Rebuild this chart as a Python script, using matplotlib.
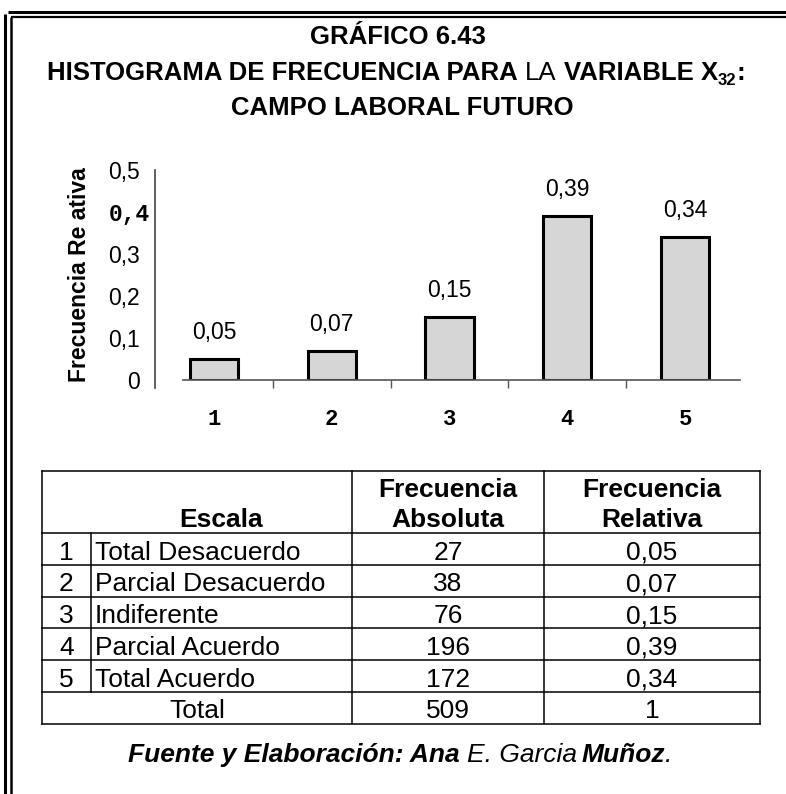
import matplotlib.pyplot as plt
from matplotlib.transforms import offset_copy

plt.rcParams['font.family'] = ['Liberation Sans', 'DejaVu Sans']

# datos de la variable X32
categorias = [1, 2, 3, 4, 5]
escalas = ['Total Desacuerdo', 'Parcial Desacuerdo', 'Indiferente',
           'Parcial Acuerdo', 'Total Acuerdo']
frec_abs = [27, 38, 76, 196, 172]
frec_rel = [0.05, 0.07, 0.15, 0.39, 0.34]
total_abs = 509
total_rel = 1
y_ticks = [0, 0.1, 0.2, 0.3, 0.4, 0.5]


def coma(v):
    return '{:.2f}'.format(v).replace('.', ',')


y_labels = ['0' if t == 0 else '{:.1f}'.format(t).replace('.', ',') for t in y_ticks]

fig = plt.figure(figsize=(7.86, 7.94), dpi=100)

# capa de fondo en pixeles para marco, titulo, tabla y fuente
bg = fig.add_axes([0, 0, 1, 1])
bg.set_xlim(0, 786)
bg.set_ylim(794, 0)
bg.axis('off')

# marco doble (arriba e izquierda)
bg.plot([8, 786], [11.5, 11.5], color='black', lw=2.2, solid_capstyle='butt')
bg.plot([11, 786], [16.5, 16.5], color='black', lw=1.6, solid_capstyle='butt')
bg.plot([4.5, 4.5], [14, 794], color='black', lw=2.2, solid_capstyle='butt')
bg.plot([10.5, 10.5], [17, 794], color='black', lw=1.8, solid_capstyle='butt')

renderer = fig.canvas.get_renderer()


def texto_por_partes(y, partes, xc=400):
    # partes: (texto, props, espacio_antes_px, desplazamiento_y_px)
    objs = []
    for s, kw, gap, dy in partes:
        t = bg.text(0, y + dy, s, ha='left', va='baseline', **kw)
        objs.append((t, gap))
    anchos = [t.get_window_extent(renderer).width for t, _ in objs]
    total = sum(anchos) + sum(g for _, g in objs)
    x = xc - total / 2
    for (t, gap), w in zip(objs, anchos):
        x += gap
        t.set_x(x)
        x += w


tb = dict(fontsize=18.5, fontweight='bold')
tr = dict(fontsize=18.5, fontweight='normal')
texto_por_partes(44, [('GRÁFICO 6.43', tb, 0, 0)], xc=398)
texto_por_partes(80, [('HISTOGRAMA DE FRECUENCIA PARA', tb, 0, 0),
                      ('LA', tr, 7, 0),
                      ('VARIABLE X', tb, 7, 0),
                      ('32', dict(fontsize=12, fontweight='bold'), 0, 5),
                      (':', tb, 0, 0)], xc=396)
texto_por_partes(115, [('CAMPO LABORAL FUTURO', tb, 0, 0)], xc=402)

# histograma
ax = fig.add_axes([155 / 786, 1 - 380 / 794, 589 / 786, 210 / 794])
ax.patch.set_visible(False)
ax.bar(categorias, frec_rel, width=0.41, color='#d6d6d6',
       edgecolor='black', linewidth=2.2)
ax.set_xlim(0.5, 5.5)
ax.set_ylim(0, 0.5)

for c, v in zip(categorias, frec_rel):
    ax.annotate(coma(v), (c, v), xytext=(0, 19), textcoords='offset points',
                ha='center', va='center', fontsize=16.5)

for s in ['top', 'right']:
    ax.spines[s].set_visible(False)
ax.spines['left'].set_color('#444444')
ax.spines['left'].set_linewidth(1.2)
ax.spines['left'].set_bounds(-0.02, 0.5)
ax.spines['bottom'].set_color('#555555')
ax.spines['bottom'].set_linewidth(1.2)
ax.spines['bottom'].set_bounds(0.74, 5.47)

ax.set_yticks(y_ticks, y_labels, fontsize=16.5)
ax.tick_params(axis='y', length=0, pad=11)
ax.set_xticks(categorias, [str(c) for c in categorias],
              fontfamily='Liberation Mono', fontweight='bold', fontsize=16)
ax.tick_params(axis='x', which='major', length=0, pad=21)
ax.set_xticks([1.5, 2.5, 3.5, 4.5], minor=True)
ax.tick_params(axis='x', which='minor', length=6, width=1, color='#555555',
               direction='out')

# la etiqueta 0,4 sale en otra tipografia
lab = ax.get_yticklabels()[4]
lab.set_fontfamily('Liberation Mono')
lab.set_fontweight('bold')
lab.set_transform(offset_copy(lab.get_transform(), fig=fig, x=10, units='dots'))

ax.set_ylabel('Frecuencia Re ativa', fontsize=16.5, fontweight='bold')
ax.yaxis.set_label_coords((80 - 155) / 589, 0.5)
ax.yaxis.label.set_va('center')

# tabla de frecuencias
x_izq, x_num, x_abs, x_rel, x_der = 42, 91, 352, 544, 760
y_top, y_head = 471, 533
alto = 31.8
filas_y = [y_head + i * alto for i in range(len(escalas) + 1)]
y_bot = filas_y[-1] + alto
lw_t = 1.1

bg.plot([x_izq, x_der], [y_top, y_top], color='black', lw=lw_t)
for yy in filas_y + [y_bot]:
    bg.plot([x_izq, x_der], [yy, yy], color='black', lw=lw_t)
for xx in [x_izq, x_abs, x_rel, x_der]:
    bg.plot([xx, xx], [y_top, y_bot], color='black', lw=lw_t)
bg.plot([x_num, x_num], [filas_y[0], filas_y[-1]], color='black', lw=lw_t)

fh = dict(fontsize=19, fontweight='bold', ha='center', va='baseline')
bg.text((x_num + x_abs) / 2, 527, 'Escala', **fh)
bg.text((x_abs + x_rel) / 2, 497, 'Frecuencia', **fh)
bg.text((x_abs + x_rel) / 2, 527, 'Absoluta', **fh)
bg.text((x_rel + x_der) / 2, 497, 'Frecuencia', **fh)
bg.text((x_rel + x_der) / 2, 527, 'Relativa', **fh)

fc = dict(fontsize=19, va='baseline')
for i, (c, e, a, r) in enumerate(zip(categorias, escalas, frec_abs, frec_rel)):
    yb = filas_y[i] + 26.5
    bg.text((x_izq + x_num) / 2, yb, str(c), ha='center', **fc)
    bg.text(x_num + 4, yb, e, ha='left', **fc)
    bg.text((x_abs + x_rel) / 2, yb, str(a), ha='center', **fc)
    bg.text((x_rel + x_der) / 2, yb, coma(r), ha='center', **fc)
yb = filas_y[-1] + 26
bg.text((x_izq + x_abs) / 2, yb, 'Total', ha='center', **fc)
bg.text((x_abs + x_rel) / 2, yb, str(total_abs), ha='center', **fc)
bg.text((x_rel + x_der) / 2, yb, str(total_rel), ha='center', **fc)

# fuente
fb = dict(fontsize=19, fontweight='bold', fontstyle='italic')
fi = dict(fontsize=19, fontweight='normal', fontstyle='italic')
texto_por_partes(762, [('Fuente y Elaboración: Ana', fb, 0, 0),
                       ('E. Garcia', fi, 8, 0),
                       ('Muñoz', fb, 4, 0),
                       ('.', fi, 0, 0)])

fig.savefig('out.png', dpi=100)
